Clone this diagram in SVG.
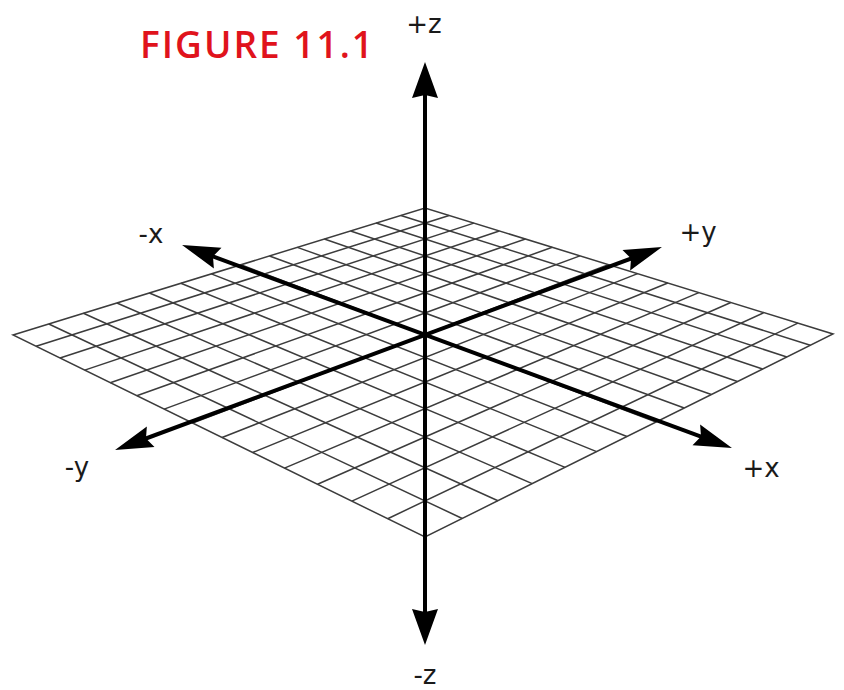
<svg xmlns="http://www.w3.org/2000/svg" width="844" height="690" viewBox="0 0 844 690">
  <style>
    .grid { fill: none; stroke: #3c3c3c; stroke-width: 1.5; }
    .axis { fill: none; stroke: #000; stroke-width: 4; }
    .lbl { font-family: "DejaVu Sans", "Liberation Sans", sans-serif; font-size: 26px; fill: #1a1a1a; text-anchor: middle; }
    .title { font-family: "Open Sans", "Liberation Sans", sans-serif; font-weight: 600; font-size: 37px; fill: #e0131c; }
  </style>
  <defs>
    <marker id="headXY" markerUnits="userSpaceOnUse" viewBox="-20 -12 42 24" refX="0" refY="0" markerWidth="42" markerHeight="24" orient="auto-start-reverse">
      <path d="M20,0 L-18,-11 L-13,0 L-18,11 Z" fill="#000"/>
    </marker>
    <marker id="headZ" markerUnits="userSpaceOnUse" viewBox="-20 -15 42 30" refX="0" refY="0" markerWidth="42" markerHeight="30" orient="auto-start-reverse">
      <path d="M20,0 L-16,-13 L-13,0 L-16,13 Z" fill="#000"/>
    </marker>
  </defs>
  <rect width="844" height="690" fill="#fff"/>

  <g id="title">
    <text class="title" x="140" y="58" textLength="233" lengthAdjust="spacing">FIGURE 11.1</text>
  </g>

  <g id="grid">
    <polygon class="grid" points="13,335 425,208 833,334 425,537"/>
    <path class="grid" d="M48.80,323.97 L462.27,518.46 M83.43,313.29 L497.97,500.70 M116.94,302.96 L532.20,483.67 M149.38,292.96 L565.06,467.32 M180.82,283.27 L596.62,451.62 M211.28,273.88 L626.95,436.53 M240.83,264.77 L656.13,422.01 M269.50,255.94 L684.23,408.03 M297.32,247.36 L711.29,394.56 M324.33,239.03 L737.39,381.58 M350.58,230.94 L762.56,369.06 M376.09,223.08 L786.85,356.97 M400.88,215.44 L810.32,345.29"/>
    <path class="grid" d="M36.12,346.33 L449.11,215.45 M60.01,358.05 L473.87,223.09 M84.72,370.16 L499.30,230.95 M110.28,382.70 L525.43,239.02 M136.75,395.67 L552.30,247.32 M164.17,409.12 L579.94,255.85 M192.59,423.06 L608.37,264.63 M222.08,437.51 L637.64,273.67 M252.68,452.52 L667.78,282.98 M284.48,468.10 L698.83,292.57 M317.53,484.31 L730.83,302.45 M351.91,501.17 L763.83,312.64 M387.70,518.72 L797.87,323.16"/>
  </g>

  <g id="axes">
    <line id="x-axis" class="axis" x1="200.8" y1="251.9" x2="713.2" y2="441.1" marker-start="url(#headXY)" marker-end="url(#headXY)"/>
    <line id="y-axis" class="axis" x1="133.8" y1="443.0" x2="643.2" y2="254.0" marker-start="url(#headXY)" marker-end="url(#headXY)"/>
    <line id="z-axis" class="axis" x1="425" y1="82" x2="425" y2="625" marker-start="url(#headZ)" marker-end="url(#headZ)"/>
  </g>

  <g id="labels">
    <g id="label-pz"><text class="lbl" x="424" y="33">+z</text></g>
    <g id="label-nz"><text class="lbl" x="425" y="684">-z</text></g>
    <g id="label-nx"><text class="lbl" x="151" y="243">-x</text></g>
    <g id="label-px"><text class="lbl" x="761" y="477">+x</text></g>
    <g id="label-py"><text class="lbl" x="698" y="241">+y</text></g>
    <g id="label-ny"><text class="lbl" x="77" y="476">-y</text></g>
  </g>
</svg>
